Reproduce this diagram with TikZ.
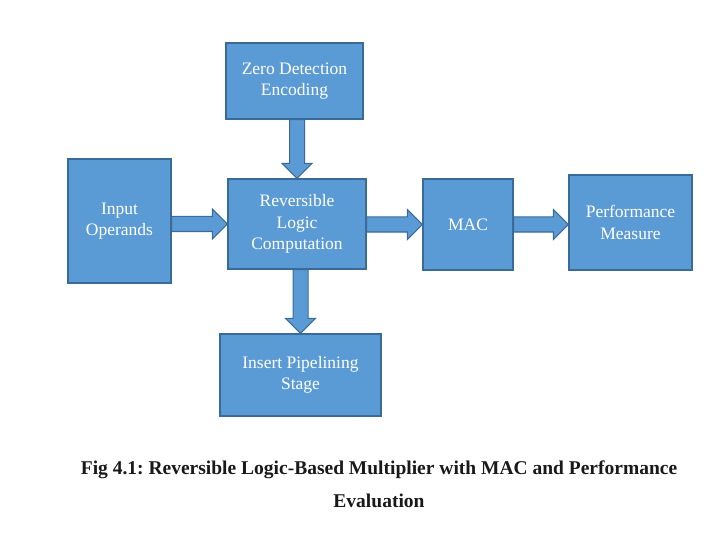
\documentclass[tikz,border=0pt]{standalone}
\usepackage{fontspec}
\setmainfont{Liberation Serif}
\usetikzlibrary{calc}
\definecolor{boxblue}{HTML}{5B9BD5}
\definecolor{boxedge}{HTML}{3A6B98}
\frenchspacing
\begin{document}
\begin{tikzpicture}[x=1pt, y=-1pt, line join=miter,
	block/.style={draw=boxedge, fill=boxblue, line width=1.2pt, text=white, align=center,
		inner sep=0pt, font=\fontsize{17.5}{21.5}\selectfont},
	% block arrow from start to target: shaft 15pt, head 30pt wide, 15pt long
	fatarrow/.style={draw=boxedge, fill=boxblue, line width=1pt,
		to path={let \p1=($(\tikztotarget)-(\tikztostart)$), \n1={atan2(\y1,\x1)},
			\n2={veclen(\x1,\y1)-15pt} in
			($(\tikztostart)+(\n1+90:7.5pt)$) -- ++(\n1:\n2) -- ++(\n1+90:7.5pt) -- (\tikztotarget)
			-- ($(\tikztostart)+(\n1:\n2)+(\n1-90:15pt)$) -- ++(\n1+90:7.5pt)
			-- ($(\tikztostart)+(\n1-90:7.5pt)$) -- cycle}}]
	\useasboundingbox (0,0) rectangle (720,540);
	\node[block, minimum width=137pt, minimum height=76pt] (zero) at (294.5,81) {Zero Detection\\Encoding};
	\node[block, minimum width=103pt, minimum height=124pt] (input) at (119.5,221) {Input\\Operands};
	\node[block, minimum width=138pt, minimum height=90pt] (rev) at (297,224) {Reversible\\Logic\\Computation};
	\node[block, minimum width=161pt, minimum height=82pt] (pipe) at (300.5,375) {Insert Pipelining\\Stage};
	\node[block, minimum width=90pt, minimum height=91pt] (mac) at (468,224.5) {MAC};
	\node[block, minimum width=123pt, minimum height=95pt] (perf) at (630.5,222.5) {Performance\\Measure};
	\draw[fatarrow] (zero.south -| rev) to (rev.north);
	\draw[fatarrow] (rev.south -| pipe) to (pipe.north);
	\draw[fatarrow] (input.east |- rev) to (rev.west);
	\draw[fatarrow] (rev.east |- mac) to (mac.west);
	\draw[fatarrow] (mac.east) to (perf.west |- mac);
	\node[align=center, font=\bfseries\fontsize{19.5}{33}\selectfont, text=black!90] (caption) at (379,484)
		{Fig 4.1: Reversible Logic-Based Multiplier with MAC and Performance\\Evaluation};
\end{tikzpicture}
\end{document}
